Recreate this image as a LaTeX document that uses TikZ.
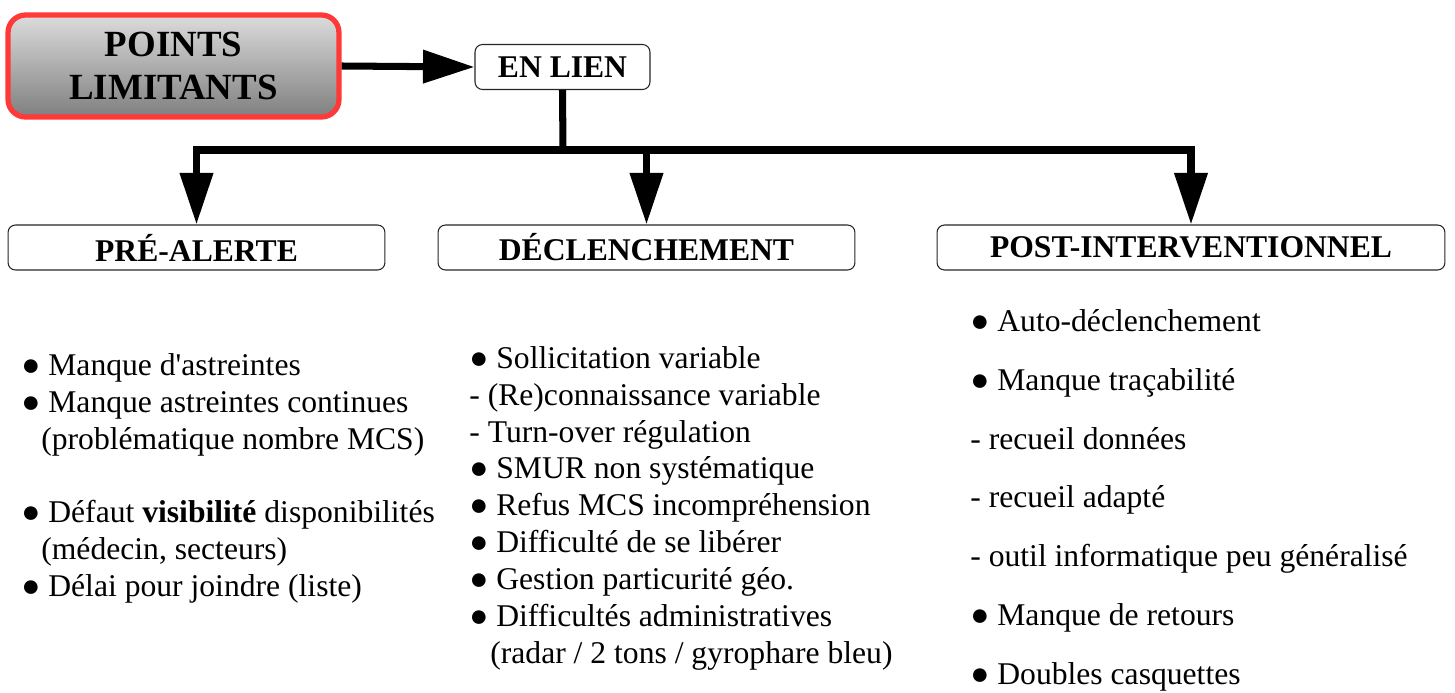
\documentclass[tikz,border=0pt]{standalone}
\usepackage{fontspec}
\setmainfont{Liberation Serif}[Ligatures=TeXOff]
\usetikzlibrary{arrows.meta}
\definecolor{limitred}{HTML}{FF3838}
\definecolor{gradtop}{HTML}{DCDCDC}
\definecolor{gradbot}{HTML}{7F7F7F}

\begin{document}
\begin{tikzpicture}[x=0.02cm,y=-0.02cm,
  titlebox/.style={draw=limitred, line width=3pt, rounded corners=0.35cm,
    top color=gradtop, bottom color=gradbot, inner sep=0pt, align=center,
    minimum width=6.62cm, minimum height=2.04cm,
    font=\bfseries\fontsize{21}{24.4}\selectfont},
  headbox/.style={draw=black!85, line width=0.6pt, rounded corners=0.15cm,
    fill=white, inner sep=0pt, minimum height=0.9cm,
    font=\bfseries\fontsize{18}{21}\selectfont},
  listtext/.style={anchor=north west, inner sep=0pt, align=left,
    font=\fontsize{18}{21}\selectfont},
  conn/.style={draw=black, line width=4pt},
  tip/.style={-{Triangle[length=1.03cm,width=0.64cm]}}]
\useasboundingbox (0,0) rectangle (1455,693);

\node [titlebox] (limit) at (173.5,66) {POINTS\\LIMITANTS};
\node [headbox, minimum width=3.5cm] (enlien) at (562.5,67) {EN LIEN};
\draw [conn, tip] (limit.east) -- (enlien.west);

\node [headbox, minimum width=7.54cm] (prealerte) at (196.5,247.5) {PRÉ-ALERTE};
\node [headbox, minimum width=8.34cm] (declench) at (646.5,247.5) {DÉCLENCHEMENT};
\node [headbox, minimum width=10.16cm] (postinter) at (1191,247.5) {POST-INTERVENTIONNEL};

\coordinate (bar) at (563,150);
\draw [conn] (enlien.south) -- (bar);
\draw [conn, tip] (bar) -| (prealerte.north);
\draw [conn, tip] (bar) -| (declench.north);
\draw [conn, tip] (bar) -| (postinter.north);

\node [listtext] (prealist) at (21,353) {● Manque d'astreintes\\
  ● Manque astreintes continues\\
  \hspace*{0.4cm}(problématique nombre MCS)\\[21pt]
  ● Défaut \textbf{visibilité} disponibilités\\
  \hspace*{0.4cm}(médecin, secteurs)\\
  ● Délai pour joindre (liste)};

\node [listtext] (declist) at (469,346) {● Sollicitation variable\\
  - (Re)connaissance variable\\
  - Turn-over régulation\\
  ● SMUR non systématique\\
  ● Refus MCS incompréhension\\
  ● Difficulté de se libérer\\
  ● Gestion particurité géo.\\
  ● Difficultés administratives\\
  \hspace*{0.42cm}(radar / 2 tons / gyrophare bleu)};

\node [listtext, font=\fontsize{18}{33.5}\selectfont] (postlist) at (970,309) {● Auto-déclenchement\\
  ● Manque traçabilité\\
  - recueil données\\
  - recueil adapté\\
  - outil informatique peu généralisé\\
  ● Manque de retours\\
  ● Doubles casquettes};
\end{tikzpicture}
\end{document}
